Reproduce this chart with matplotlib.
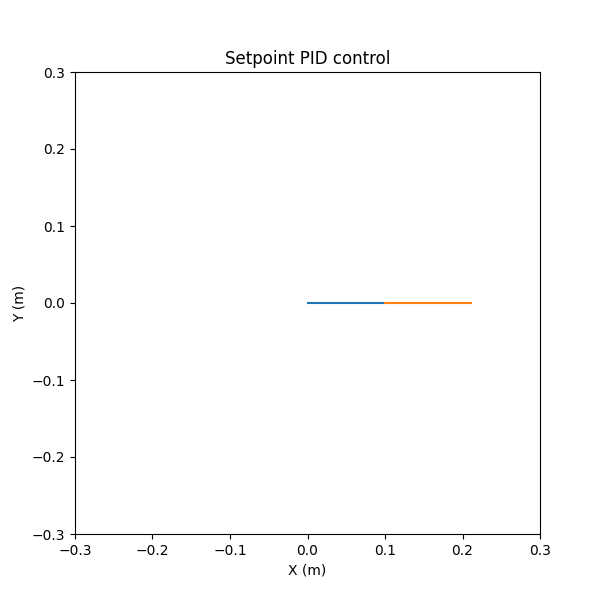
import matplotlib
matplotlib.use("Agg")
import matplotlib.pyplot as plt

# path segments: start -> setpoint, setpoint -> overshoot
seg1_x = [0.0, 0.1]
seg1_y = [0.0, 0.0]
seg2_x = [0.1, 0.211]
seg2_y = [0.0, 0.0]

fig, ax = plt.subplots(figsize=(6, 6), dpi=100)
ax.plot(seg1_x, seg1_y)
ax.plot(seg2_x, seg2_y)
ax.set_xlim(-0.3, 0.3)
ax.set_ylim(-0.3, 0.3)
ax.set_xlabel("X (m)")
ax.set_ylabel("Y (m)")
ax.set_title("Setpoint PID control")
fig.savefig("out.png")
